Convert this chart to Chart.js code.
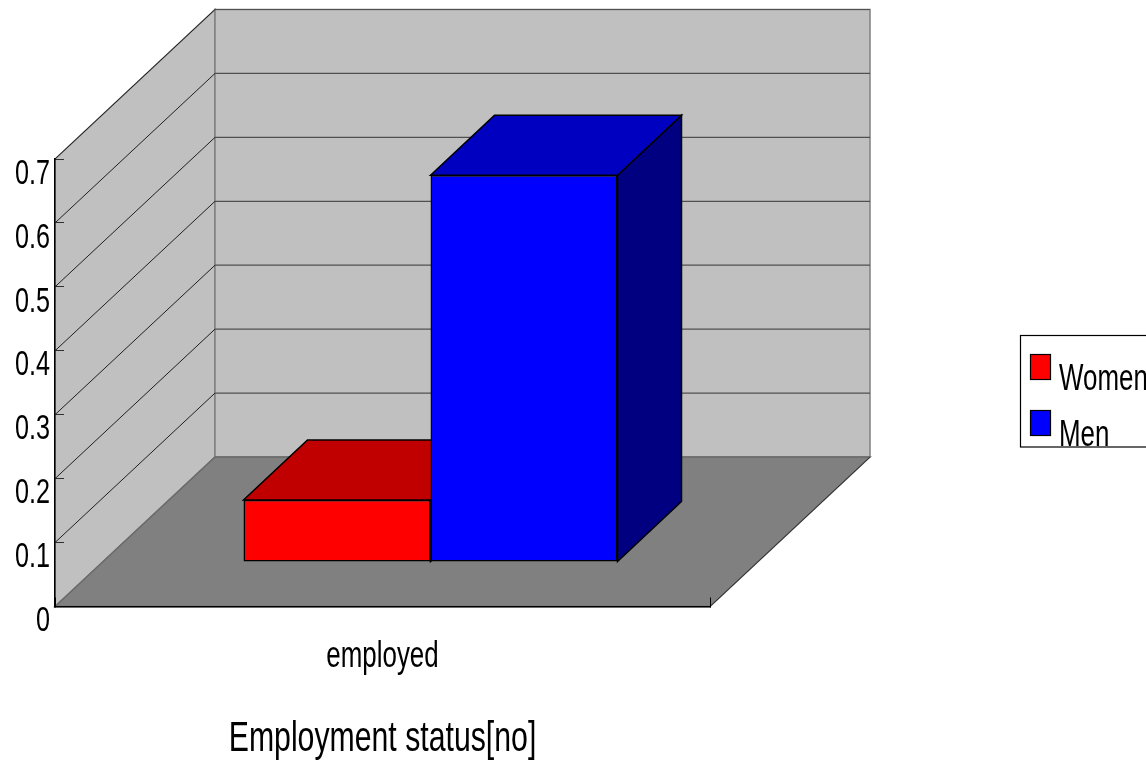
<!DOCTYPE html>
<html>
<head>
<meta charset="utf-8">
<title>Employment status</title>
<script src="https://cdn.jsdelivr.net/npm/chart.js@4/dist/chart.umd.min.js"></script>
<style>
  html,body{margin:0;padding:0;background:#fff;}
  #wrap{position:relative;width:1146px;height:760px;overflow:hidden;}
</style>
</head>
<body>
<div id="wrap"><canvas id="myChart" width="1146" height="760"></canvas></div>
<script>
// data
const categories = ["employed"];
const womenValues = [0.097];
const menValues = [0.605];
const seriesNames = ["Women", "Men"];
const yTicks = [0, 0.1, 0.2, 0.3, 0.4, 0.5, 0.6, 0.7];

// colours
const frontColors = ["#ff0000", "#0000ff"];
const topColors = ["#c00000", "#0000c0"];
const sideColors = ["#800000", "#000080"];

// the fake 3d: how far the back wall and the bars are pushed from the axis plane
const wallDepth = {x: 160, y: 149.5};
const barShift = {x: 48, y: 44.5};
const barDepth = {x: 64, y: 60};

const fontName = "'Liberation Sans',Arial,sans-serif";
const textSqueeze = 0.72;  // the original text is squashed sideways

let poly = (ctx, pts, fill, stroke, width) => {
    ctx.beginPath();
    pts.forEach((p, i) => i ? ctx.lineTo(p[0], p[1]) : ctx.moveTo(p[0], p[1]));
    ctx.closePath();
    ctx.fillStyle = fill;
    ctx.fill();
    if (stroke) {
        ctx.strokeStyle = stroke;
        ctx.lineWidth = width || 1;
        ctx.stroke();
    }
};

const box3d = {
    id: "box3d",
    // walls and floor go under everything else
    beforeDraw(chart) {
        const ctx = chart.ctx;
        const {left, right, top, bottom} = chart.chartArea;
        const y = chart.scales.y;
        const dx = wallDepth.x, dy = wallDepth.y;
        ctx.save();
        // side wall
        poly(ctx, [[left, bottom], [left, top], [left + dx, top - dy], [left + dx, bottom - dy]], "#c0c0c0", "#808080", 1.5);
        // back wall
        poly(ctx, [[left + dx, bottom - dy], [left + dx, top - dy], [right + dx, top - dy], [right + dx, bottom - dy]], "#c0c0c0", "#808080", 1.5);
        // floor
        poly(ctx, [[left, bottom], [left + dx, bottom - dy], [right + dx, bottom - dy], [right, bottom]], "#808080", "#6a6a6a", 1.5);
        ctx.strokeStyle = "#303030";
        ctx.lineWidth = 1;
        ctx.beginPath();
        ctx.moveTo(right, bottom);
        ctx.lineTo(right + dx, bottom - dy);
        ctx.stroke();
        // grid lines, running along the side wall and across the back
        yTicks.forEach(v => {
            if (v === 0) return;
            const py = y.getPixelForValue(v);
            ctx.strokeStyle = "#202020";
            ctx.lineWidth = 1;
            ctx.beginPath();
            ctx.moveTo(left, py);
            ctx.lineTo(left + dx, py - dy);
            ctx.stroke();
            ctx.strokeStyle = "#505050";
            ctx.lineWidth = 1.2;
            ctx.beginPath();
            ctx.moveTo(left + dx, py - dy);
            ctx.lineTo(right + dx, py - dy);
            ctx.stroke();
        });
        ctx.restore();
    },
    // bar tops and sides first, then the library paints the front faces
    beforeDatasetsDraw(chart) {
        const ctx = chart.ctx;
        ctx.save();
        ctx.translate(barShift.x, -barShift.y);
        chart.data.datasets.forEach((ds, i) => {
            chart.getDatasetMeta(i).data.forEach(bar => {
                const l = bar.x - bar.width / 2, r = bar.x + bar.width / 2;
                const t = bar.y, b = bar.base;
                const dx = barDepth.x, dy = barDepth.y;
                poly(ctx, [[r, t], [r + dx, t - dy], [r + dx, b - dy], [r, b]], sideColors[i], "#000", 1.5);
                poly(ctx, [[l, t], [l + dx, t - dy], [r + dx, t - dy], [r, t]], topColors[i], "#000", 1.5);
            });
        });
    },
    afterDatasetsDraw(chart) {
        chart.ctx.restore();
    },
    // legend sits in its own box, the right side runs off the page like the original
    afterDraw(chart) {
        const ctx = chart.ctx;
        const boxTop = [354, 410], textY = [389.5, 446];
        ctx.save();
        ctx.strokeStyle = "#000";
        ctx.lineWidth = 1.2;
        ctx.strokeRect(1020.5, 335.5, 140, 111.5);
        ctx.font = "36px " + fontName;
        ctx.textAlign = "left";
        ctx.textBaseline = "alphabetic";
        chart.data.datasets.forEach((ds, i) => {
            ctx.fillStyle = frontColors[i];
            ctx.fillRect(1030.5, boxTop[i] + 0.5, 20, 25);
            ctx.strokeRect(1030.5, boxTop[i] + 0.5, 20, 25);
            ctx.fillStyle = "#000";
            ctx.fillText(ds.label, 1059, textY[i]);
        });
        ctx.restore();
    }
};

const canvas = document.getElementById("myChart");

// squeeze all text through fillText's maxWidth, Chart.js has no option for this
const rawCtx = canvas.getContext("2d");
const plainFillText = rawCtx.fillText.bind(rawCtx);
rawCtx.fillText = (text, x, y) => plainFillText(text, x, y, rawCtx.measureText(text).width * textSqueeze);

new Chart(canvas, {
    type: "bar",
    data: {
        labels: categories,
        datasets: [
            {label: seriesNames[0], data: womenValues, backgroundColor: frontColors[0], borderColor: "#000", borderWidth: 1.5, borderSkipped: false, clip: false},
            {label: seriesNames[1], data: menValues, backgroundColor: frontColors[1], borderColor: "#000", borderWidth: 1.5, borderSkipped: false, clip: false}
        ]
    },
    options: {
        responsive: false,
        animation: false,
        devicePixelRatio: 1,
        layout: {padding: {left: 0, right: 436, top: 159, bottom: 0}},
        plugins: {legend: {display: false}, tooltip: {enabled: false}, title: {display: false}},
        datasets: {bar: {barPercentage: 1, categoryPercentage: 0.571}},
        scales: {
            x: {
                afterFit: s => { s.height = 153.5; },
                border: {color: "#000", width: 1.5},
                grid: {drawOnChartArea: false, tickLength: -9, color: "#000", offset: true},
                ticks: {color: "#000", padding: 38, font: {family: fontName, size: 36}, maxRotation: 0},
                title: {display: true, text: "Employment status[no]", color: "#000", font: {family: fontName, size: 42, lineHeight: 1}, padding: {top: 0, bottom: 0}}
            },
            y: {
                min: 0,
                max: 0.7,
                afterFit: s => { s.width = 55; },
                afterBuildTicks: s => { s.ticks = yTicks.map(v => ({value: v})); },
                border: {color: "#000", width: 1.5},
                grid: {drawOnChartArea: false, tickLength: -9, color: "#303030"},
                ticks: {color: "#000", padding: 14, labelOffset: 15, font: {family: fontName, size: 35}, callback: v => String(v)}
            }
        }
    },
    plugins: [box3d]
});
</script>
</body>
</html>
